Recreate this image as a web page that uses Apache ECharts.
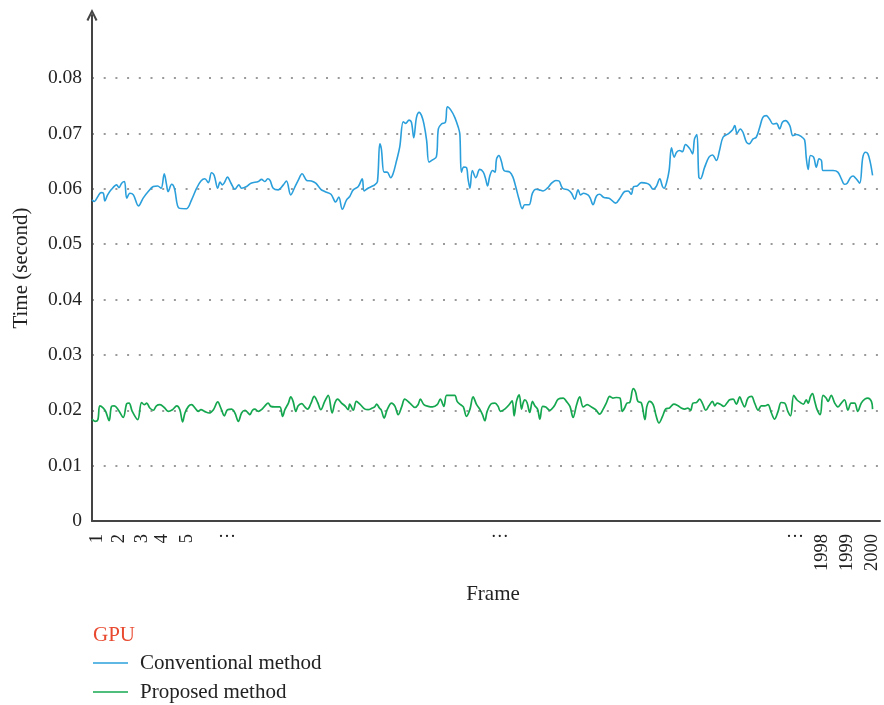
<!DOCTYPE html>
<html><head><meta charset="utf-8">
<script src="https://cdn.jsdelivr.net/npm/echarts@6/dist/echarts.min.js"></script>
<style>html,body{margin:0;padding:0;background:#fff}#c{width:884px;height:705px}</style>
</head><body><div id="c"></div>
<script>
const seriesNames = ['Conventional method', 'Proposed method'];
const conventionalFrames = [1,7,16,24,30,34,41,51,64,70,77,84,90,98,107,120,132,145,158,169,178,186,192,196,205,212,224,243,256,269,280,290,299,307,314,323,329,335,340,348,357,367,377,384,397,408,427,435,444,451,457,465,478,491,499,510,521,529,539,551,563,574,587,597,613,625,633,642,653,
661,670,683,693,698,708,717,725,732,738,742,749,757,766,772,781,789,798,804,813,819,825,832,839,845,851,858,864,873,883,888,896,906,911,920,930,939,943,947,953,960,964,969,975,984,994,1003,1009,1014,1020,1027,1033,1037,1043,1050,1056,1071,1079,1086,1095,1103,1109,1120,1129,1138,1146,1156,1167,1178,1189,1197,1206,1220,1229,1237,1246,1252,1260,1271,1277,1284,1293,1301,1312,1325,
1342,1353,1365,1374,1382,1388,1397,1408,1421,1429,1438,1446,1455,1462,1466,1472,1479,1485,1492,1498,1506,1513,1521,1532,1539,1544,1550,1555,1559,1570,1581,1590,1600,1608,1617,1630,1641,1647,1653,1661,1668,1677,1684,1694,1702,1711,1719,1728,1736,1745,1754,1762,1769,1777,1788,1796,1805,1818,1826,1830,1835,1841,1849,1856,1863,1869,1873,1886,1899,1911,1920,1928,1935,1943,1950,1958,1967,1975,1982,1988,1994,2000];
const conventionalTime = [0.0580,0.0577,0.0586,0.0593,0.0592,0.0578,0.0589,0.0599,0.0607,0.0602,0.0610,0.0613,0.0583,0.0592,0.0589,0.0569,0.0583,0.0595,0.0604,0.0605,0.0601,0.0627,0.0607,0.0595,0.0608,0.0601,0.0565,0.0564,0.0580,0.0601,0.0614,0.0618,0.0611,0.0629,0.0624,0.0601,0.0612,0.0607,0.0611,0.0621,0.0610,0.0599,0.0607,0.0601,0.0604,0.0610,0.0613,0.0617,0.0613,0.0618,0.0615,0.0601,0.0598,0.0607,0.0614,0.0589,0.0604,0.0615,0.0627,0.0615,0.0614,0.0610,0.0599,0.0595,0.0590,0.0576,0.0585,0.0563,0.0580,
0.0586,0.0598,0.0604,0.0618,0.0596,0.0601,0.0604,0.0607,0.0613,0.0681,0.0672,0.0630,0.0630,0.0620,0.0627,0.0651,0.0675,0.0721,0.0718,0.0724,0.0720,0.0692,0.0729,0.0738,0.0732,0.0717,0.0687,0.0648,0.0652,0.0658,0.0708,0.0717,0.0720,0.0748,0.0742,0.0729,0.0711,0.0699,0.0630,0.0639,0.0638,0.0618,0.0601,0.0633,0.0620,0.0635,0.0630,0.0618,0.0605,0.0624,0.0633,0.0630,0.0654,0.0660,0.0648,0.0633,0.0630,0.0621,0.0604,0.0580,0.0564,0.0571,0.0571,0.0592,0.0599,0.0598,0.0596,0.0601,0.0610,0.0615,0.0614,0.0601,0.0598,0.0592,0.0581,0.0598,0.0589,0.0592,0.0589,0.0583,0.0571,0.0587,0.0590,0.0584,0.0583,
0.0574,0.0583,0.0595,0.0596,0.0590,0.0604,0.0605,0.0611,0.0610,0.0607,0.0599,0.0604,0.0618,0.0604,0.0601,0.0610,0.0633,0.0674,0.0657,0.0666,0.0669,0.0667,0.0680,0.0672,0.0663,0.0690,0.0698,0.0621,0.0618,0.0639,0.0657,0.0661,0.0651,0.0669,0.0693,0.0699,0.0706,0.0714,0.0700,0.0708,0.0702,0.0684,0.0681,0.0690,0.0693,0.0711,0.0729,0.0732,0.0726,0.0717,0.0718,0.0708,0.0720,0.0723,0.0714,0.0696,0.0698,0.0694,0.0688,0.0657,0.0635,0.0660,0.0657,0.0639,0.0654,0.0651,0.0633,0.0633,0.0633,0.0630,0.0618,0.0608,0.0610,0.0620,0.0623,0.0618,0.0610,0.0657,0.0666,0.0663,0.0648,0.0624];
const proposedFrames = [1,9,16,21,30,36,45,51,58,68,81,90,96,104,118,128,135,141,149,158,166,175,186,196,207,218,226,233,239,248,256,265,273,280,289,301,312,323,331,340,348,359,367,376,384,393,401,405,412,418,427,435,444,452,459,469,482,489,495,504,510,516,523,529,538,546,553,562,570,579,587,597,606,616,623,630,640,650,657,
661,670,678,687,700,708,719,725,730,737,742,749,757,768,777,785,794,802,815,828,836,842,851,862,873,885,893,902,909,917,930,936,945,952,960,969,977,986,994,1001,1007,1013,1024,1033,1041,1047,1058,1069,1077,1082,1088,1095,1101,1105,1109,1115,1122,1129,1135,1142,1148,1155,1163,1173,1184,1195,1208,1216,1225,1233,1242,1250,1259,1269,1280,1291,1301,1310,1318,
1327,1335,1344,1353,1359,1365,1371,1378,1387,1393,1399,1408,1417,1422,1429,1438,1446,1453,1462,1470,1480,1491,1502,1510,1519,1527,1534,1540,1549,1557,1564,1573,1581,1590,1596,1602,1610,1619,1627,1634,1643,1651,1660,1666,1672,1681,1690,1698,1707,1715,1724,1732,1741,1749,1758,1766,1775,1783,1790,1798,1806,1815,1823,1830,1835,1841,1846,1852,1858,1866,1873,1881,1886,1894,1903,1911,1920,1928,1937,1945,1954,1962,1971,1980,1988,1997,2000];
const proposedTime = [0.0184,0.0180,0.0183,0.0208,0.0204,0.0198,0.0181,0.0207,0.0208,0.0201,0.0187,0.0212,0.0213,0.0198,0.0183,0.0214,0.0210,0.0213,0.0204,0.0200,0.0208,0.0210,0.0205,0.0198,0.0201,0.0208,0.0201,0.0179,0.0195,0.0207,0.0210,0.0204,0.0198,0.0201,0.0198,0.0195,0.0201,0.0215,0.0204,0.0190,0.0201,0.0202,0.0195,0.0180,0.0195,0.0200,0.0195,0.0192,0.0200,0.0202,0.0198,0.0201,0.0208,0.0213,0.0207,0.0206,0.0206,0.0189,0.0201,0.0213,0.0224,0.0216,0.0198,0.0208,0.0212,0.0206,0.0202,0.0213,0.0225,0.0214,0.0201,0.0216,0.0227,0.0195,0.0213,0.0220,0.0213,0.0207,0.0201,
0.0211,0.0200,0.0216,0.0211,0.0202,0.0201,0.0204,0.0206,0.0211,0.0204,0.0200,0.0186,0.0201,0.0213,0.0207,0.0192,0.0206,0.0220,0.0213,0.0205,0.0210,0.0220,0.0210,0.0207,0.0206,0.0210,0.0220,0.0207,0.0227,0.0227,0.0227,0.0216,0.0210,0.0206,0.0189,0.0202,0.0224,0.0210,0.0202,0.0192,0.0181,0.0198,0.0212,0.0213,0.0207,0.0198,0.0202,0.0210,0.0217,0.0190,0.0216,0.0228,0.0202,0.0213,0.0219,0.0214,0.0196,0.0216,0.0208,0.0202,0.0184,0.0207,0.0206,0.0200,0.0207,0.0220,0.0222,0.0216,0.0207,0.0187,0.0210,0.0224,0.0206,0.0210,0.0206,0.0201,0.0193,0.0202,0.0213,
0.0225,0.0222,0.0223,0.0222,0.0198,0.0204,0.0213,0.0214,0.0239,0.0233,0.0216,0.0213,0.0183,0.0207,0.0216,0.0210,0.0189,0.0177,0.0189,0.0202,0.0204,0.0211,0.0208,0.0204,0.0202,0.0204,0.0200,0.0213,0.0214,0.0220,0.0213,0.0200,0.0208,0.0216,0.0208,0.0213,0.0211,0.0207,0.0213,0.0219,0.0220,0.0211,0.0224,0.0214,0.0206,0.0222,0.0225,0.0213,0.0200,0.0208,0.0208,0.0210,0.0195,0.0184,0.0198,0.0214,0.0213,0.0198,0.0190,0.0227,0.0219,0.0214,0.0211,0.0219,0.0213,0.0225,0.0230,0.0216,0.0201,0.0192,0.0227,0.0222,0.0216,0.0227,0.0213,0.0206,0.0213,0.0219,0.0200,0.0213,0.0213,0.0198,0.0213,0.0220,0.0222,0.0216,0.0202];
const yTicks = [0, 0.01, 0.02, 0.03, 0.04, 0.05, 0.06, 0.07, 0.08];
const frameTickLabels = ['1','2','3','4','5','1998','1999','2000'];
const frameTickSlots = [2, 11, 20, 28, 38, 292, 302, 312];
const ellipsisSlots = [54, 163, 281];
const SLOTS = 316;

const FONT = 'Liberation Serif';
const labelCats = new Array(SLOTS).fill('');
frameTickSlots.forEach((s, i) => labelCats[s] = frameTickLabels[i]);
const dotCats = new Array(SLOTS).fill('');
ellipsisSlots.forEach(s => dotCats[s] = '···');

const pair = (xs, ys) => xs.map((x, i) => [x, ys[i]]);
const grid = {left: 92, right: 4, top: 15, bottom: 184};
const yMax = 0.08 + 63 / 5537.5;
const dotColor = '#9a9a9a';
const blue = '#2a9fdb', green = '#15a74f';

const chart = echarts.init(document.getElementById('c'), null, {renderer: 'canvas'});
chart.setOption({
  animation: false,
  backgroundColor: '#fff',
  textStyle: {fontFamily: FONT},
  title: {text: 'GPU', left: 93, top: 625, padding: 0,
    textStyle: {color: '#e8492f', fontFamily: FONT, fontSize: 21, fontWeight: 'normal'}},
  legend: {
    orient: 'vertical', left: 93, top: 652, height: 80, padding: 0,
    icon: 'rect', itemWidth: 35, itemHeight: 1.5, itemGap: 7,
    data: seriesNames,
    textStyle: {fontFamily: FONT, fontSize: 21, lineHeight: 22, color: '#222', padding: [0, 0, 0, 7]}
  },
  grid: grid,
  xAxis: [
    {type: 'value', min: 1, max: 2019, name: 'Frame', nameLocation: 'middle', nameGap: 63,
     nameTextStyle: {fontFamily: FONT, fontSize: 21, color: '#222', padding: [0, 0, 0, 14]},
     axisLine: {show: true, onZero: false, lineStyle: {color: '#444', width: 2}},
     axisTick: {show: false}, axisLabel: {show: false}, splitLine: {show: false}},
    {type: 'category', data: labelCats, boundaryGap: false, position: 'bottom',
     axisLine: {show: false}, axisTick: {show: false}, splitLine: {show: false},
     axisLabel: {interval: 0, rotate: 90, margin: 13, fontFamily: FONT, fontSize: 18.5, color: '#222'}},
    {type: 'category', data: dotCats, boundaryGap: false, position: 'bottom',
     axisLine: {show: false}, axisTick: {show: false}, splitLine: {show: false},
     axisLabel: {interval: 0, margin: 7, fontFamily: FONT, fontSize: 18, color: '#222'}}
  ],
  yAxis: {
    type: 'value', min: 0, max: yMax, interval: 0.01,
    name: 'Time (second)', nameLocation: 'middle', nameGap: 60,
    nameTextStyle: {fontFamily: FONT, fontSize: 21, color: '#222'},
    axisLine: {show: true, symbol: ['none', 'path://M0,10 L5,0 L10,10 L8.3,10.9 L5,3.8 L1.7,10.9 Z'], symbolSize: [14, 12], lineStyle: {color: '#444', width: 2}},
    axisTick: {show: false},
    axisLabel: {margin: 10, fontFamily: FONT, fontSize: 19.5, color: '#222',
      formatter: v => { const t = yTicks.find(k => Math.abs(k - v) < 1e-9); return t === undefined ? '' : (t === 0 ? '0' : t.toFixed(2)); }},
    splitLine: {show: true, lineStyle: {type: [2, 9.7], width: 2,
      color: ['transparent', dotColor, dotColor, dotColor, dotColor, dotColor, dotColor, dotColor, dotColor, 'transparent']}}
  },
  series: [
    {name: seriesNames[0], type: 'line', xAxisIndex: 0, data: pair(conventionalFrames, conventionalTime),
     symbol: 'none', smooth: 0.35, lineStyle: {color: blue, width: 1.6}, itemStyle: {color: blue}},
    {name: seriesNames[1], type: 'line', xAxisIndex: 0, data: pair(proposedFrames, proposedTime),
     symbol: 'none', smooth: 0.35, lineStyle: {color: green, width: 1.7}, itemStyle: {color: green}}
  ]
});
</script>
</body></html>
